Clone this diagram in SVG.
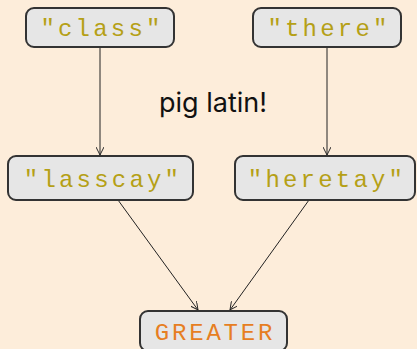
<svg xmlns="http://www.w3.org/2000/svg" width="417" height="349" viewBox="0 0 417 349">
<defs>
<style>
.box{fill:#e6e6e6;stroke:#333;stroke-width:2}
.str{font-family:"Liberation Mono",monospace;font-size:24px;fill:#b5a016;letter-spacing:3.2px;text-anchor:middle}
.kw{font-family:"Liberation Mono",monospace;font-size:24px;fill:#e67e22;letter-spacing:2.8px;text-anchor:middle}
.edge{stroke:#222;stroke-width:1;fill:none;marker-end:url(#arr)}
</style>
<marker id="arr" viewBox="0 0 10 10" refX="10" refY="5" markerWidth="8" markerHeight="8" markerUnits="userSpaceOnUse" orient="auto">
<path d="M0,0 L10,5 L0,10" fill="none" stroke="#222" stroke-width="1.2"/>
</marker>
</defs>
<rect width="417" height="349" fill="#fdedda"/>
<g id="connectors">
<line class="edge" x1="100" y1="47" x2="100" y2="155"/>
<line class="edge" x1="327" y1="47" x2="327" y2="155"/>
<line class="edge" x1="118" y1="200" x2="198" y2="310"/>
<line class="edge" x1="309" y1="200" x2="230" y2="310"/>
</g>
<g id="n_class">
<rect class="box" x="26" y="8" width="148" height="39" rx="8"/>
<text class="str" x="102" y="36">"class"</text>
</g>
<g id="n_there">
<rect class="box" x="253" y="8" width="148" height="39" rx="8"/>
<text class="str" x="329" y="36">"there"</text>
</g>
<g id="n_lasscay">
<rect class="box" x="8" y="156" width="185" height="44" rx="8"/>
<text class="str" x="103" y="187">"lasscay"</text>
</g>
<g id="n_heretay">
<rect class="box" x="235" y="156" width="180" height="44" rx="8"/>
<text class="str" x="327" y="187">"heretay"</text>
</g>
<g id="n_greater">
<rect class="box" x="140" y="311" width="147" height="40" rx="8"/>
<text class="kw" x="215" y="340">GREATER</text>
</g>
<text x="213" y="112" font-family="Inter, sans-serif" font-size="27" fill="#111" text-anchor="middle">pig latin!</text>
</svg>
